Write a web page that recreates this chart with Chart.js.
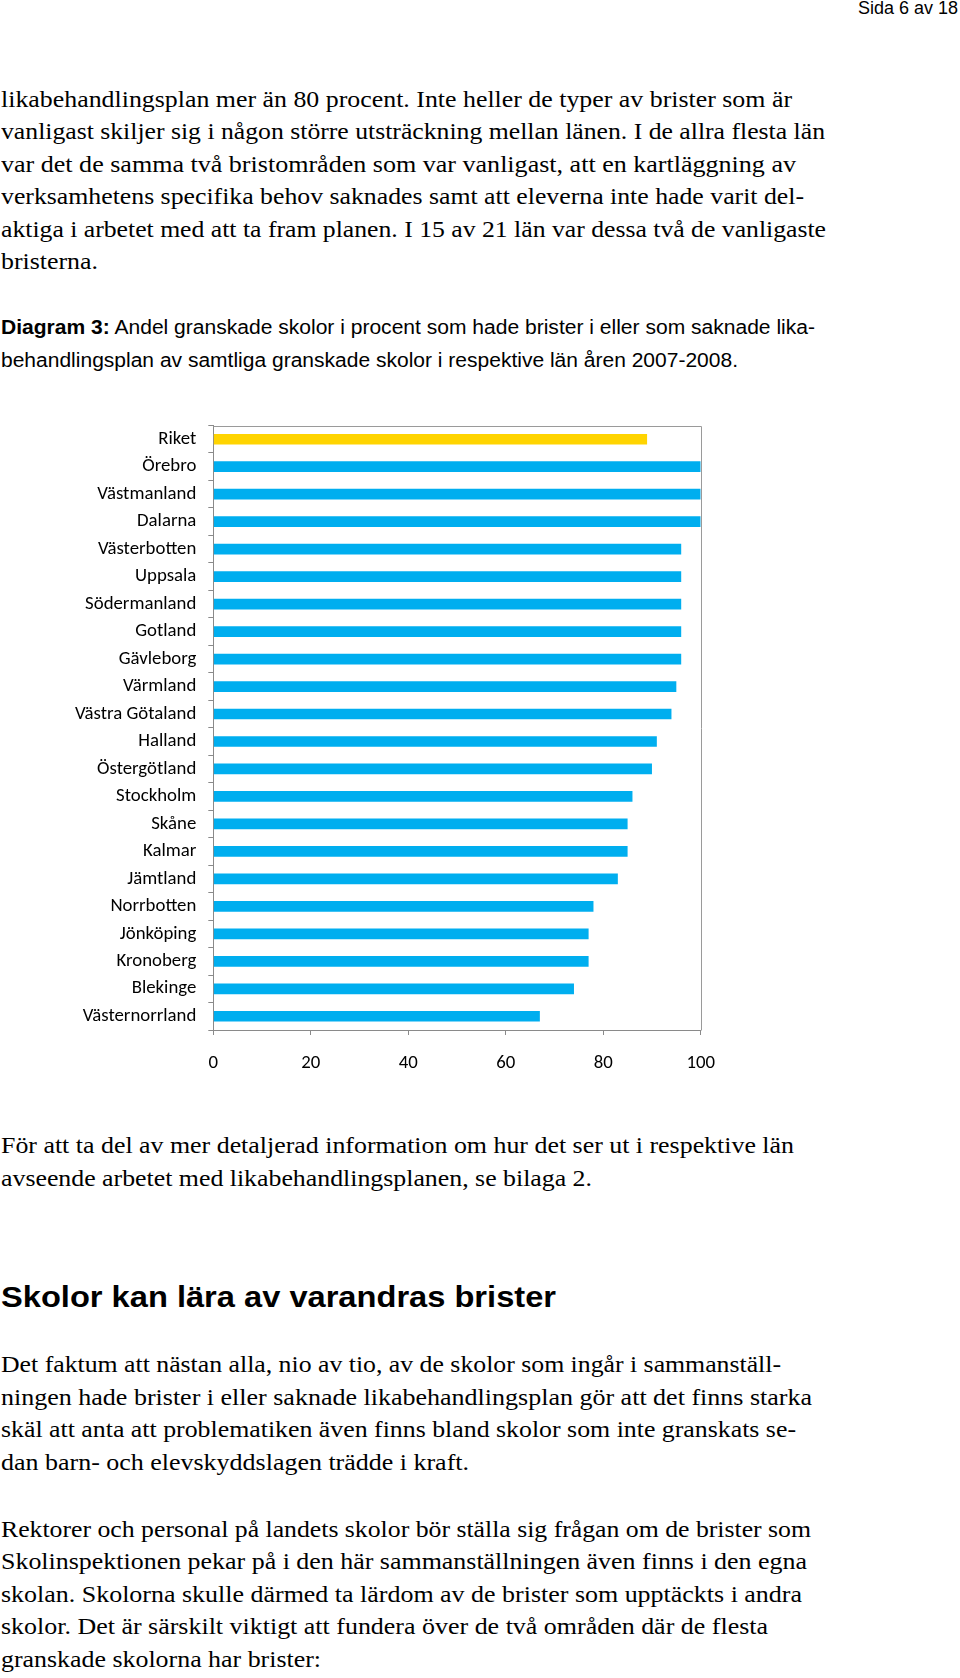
<!DOCTYPE html>
<html lang="sv">
<head>
<meta charset="utf-8">
<title>Diagram 3</title>
<script src="https://cdn.jsdelivr.net/npm/chart.js@4/dist/chart.umd.min.js"></script>
<style>
  html, body { margin:0; padding:0; background:#fff; }
  body { width:960px; height:1678px; position:relative; overflow:hidden; color:#000; }
  .ln { position:absolute; white-space:nowrap; line-height:normal; transform-origin:0 0; }
  .serif { font-family:"Liberation Serif", "Times New Roman", serif; font-size:22.5px; }
  .sans { font-family:"Liberation Sans", Arial, sans-serif; }
  #chartBox { position:absolute; left:0; top:400px; width:960px; height:700px; }
</style>
</head>
<body>
<div id="chartBox"><canvas id="c"></canvas></div>
<script>
// ---- chart data ----
const categories = ['Riket','Örebro','Västmanland','Dalarna','Västerbotten','Uppsala','Södermanland','Gotland','Gävleborg','Värmland','Västra Götaland','Halland','Östergötland','Stockholm','Skåne','Kalmar','Jämtland','Norrbotten','Jönköping','Kronoberg','Blekinge','Västernorrland'];
const values = [89, 100, 100, 100, 96, 96, 96, 96, 96, 95, 94, 91, 90, 86, 85, 85, 83, 78, 77, 77, 74, 67];
const highlightCategory = 'Riket';
const xTickValues = [0, 20, 40, 60, 80, 100];

// ---- page text (line by line) ----
const headerText = 'Sida 6 av 18';
const para1 = [
  'likabehandlingsplan mer än 80 procent. Inte heller de typer av brister som är',
  'vanligast skiljer sig i någon större utsträckning mellan länen. I de allra flesta län',
  'var det de samma två bristområden som var vanligast, att en kartläggning av',
  'verksamhetens specifika behov saknades samt att eleverna inte hade varit del-',
  'aktiga i arbetet med att ta fram planen. I 15 av 21 län var dessa två de vanligaste',
  'bristerna.'
];
const captionBold = 'Diagram 3:';
const caption = [
  ' Andel granskade skolor i procent som hade brister i eller som saknade lika-',
  'behandlingsplan av samtliga granskade skolor i respektive län åren 2007-2008.'
];
const para2 = [
  'För att ta del av mer detaljerad information om hur det ser ut i respektive län',
  'avseende arbetet med likabehandlingsplanen, se bilaga 2.'
];
const headingText = 'Skolor kan lära av varandras brister';
const para3 = [
  'Det faktum att nästan alla, nio av tio, av de skolor som ingår i sammanställ-',
  'ningen hade brister i eller saknade likabehandlingsplan gör att det finns starka',
  'skäl att anta att problematiken även finns bland skolor som inte granskats se-',
  'dan barn- och elevskyddslagen trädde i kraft.'
];
const para4 = [
  'Rektorer och personal på landets skolor bör ställa sig frågan om de brister som',
  'Skolinspektionen pekar på i den här sammanställningen även finns i den egna',
  'skolan. Skolorna skulle därmed ta lärdom av de brister som upptäckts i andra',
  'skolor. Det är särskilt viktigt att fundera över de två områden där de flesta',
  'granskade skolorna har brister:'
];

function placeLine(html, cls, style, x, baseline, targetRight) {
  const el = document.createElement('div');
  el.className = 'ln ' + cls;
  if (style) el.style.cssText += style;
  el.innerHTML = html;
  el.style.left = x + 'px';
  el.style.top = '0px';
  document.body.appendChild(el);
  const m = document.createElement('span');
  m.style.display = 'inline-block'; m.style.width = '0'; m.style.height = '0';
  el.appendChild(m);
  const r = el.getBoundingClientRect();
  const mr = m.getBoundingClientRect();
  const base = mr.top - r.top;
  el.style.top = (baseline - base) + 'px';
  if (targetRight) {
    const w = r.width;
    el.style.transform = 'scaleX(' + ((targetRight - x) / w) + ')';
  }
  return el;
}
function esc(s){ return s.replace(/&/g,'&amp;').replace(/</g,'&lt;'); }

function drawText() {
  placeLine(esc(headerText), 'sans', 'font-size:17.5px;', 858, 14, 958);
  const p1Right = [792, 825, 796, 804, 826, 98];
  para1.forEach((t, i) => placeLine(esc(t), 'serif', '', 1, 106.5 + i * 32.5, p1Right[i]));
  placeLine('<b>' + esc(captionBold) + '</b>' + esc(caption[0]), 'sans', 'font-size:19.5px;', 1, 333.5, 815);
  placeLine(esc(caption[1]), 'sans', 'font-size:19.5px;', 1, 367, 738);
  const p2Right = [794, 592];
  para2.forEach((t, i) => placeLine(esc(t), 'serif', '', 1, 1153 + i * 32.5, p2Right[i]));
  placeLine(esc(headingText), 'sans', 'font-size:29px;font-weight:bold;', 1, 1306.5, 556);
  const p3Right = [781, 812, 796, 469];
  para3.forEach((t, i) => placeLine(esc(t), 'serif', '', 1, 1372 + i * 32.5, p3Right[i]));
  const p4Right = [811, 807, 802, 768, 321];
  para4.forEach((t, i) => placeLine(esc(t), 'serif', '', 1, 1536.5 + i * 32.6, p4Right[i]));
}

const framePlugin = {
  id: 'frame',
  beforeDatasetsDraw(chart) {
    const a = chart.chartArea, c = chart.ctx;
    c.save();
    c.strokeStyle = '#9a9a9a';
    c.lineWidth = 1;
    c.beginPath();
    c.moveTo(Math.round(a.left) + 0.5, Math.round(a.top) + 0.5);
    c.lineTo(Math.round(a.right) + 0.5, Math.round(a.top) + 0.5);
    c.lineTo(Math.round(a.right) + 0.5, Math.round(a.bottom) + 0.5);
    c.stroke();
    c.restore();
  }
};

function drawChart() {
  const tickFont = { family: 'Carlito, Lato, sans-serif', size: 18.8 };
  new Chart(document.getElementById('c'), {
    type: 'bar',
    data: {
      labels: categories,
      datasets: [{
        data: values,
        backgroundColor: categories.map(c => c === highlightCategory ? '#FFD400' : '#00AEEF'),
        borderWidth: 0,
        barPercentage: 0.39,
        categoryPercentage: 1
      }]
    },
    options: {
      indexAxis: 'y',
      responsive: true,
      maintainAspectRatio: false,
      animation: false,
      events: [],
      layout: { padding: { left: 0, top: 25.5, right: 259.3, bottom: 10 } },
      plugins: { legend: { display: false }, tooltip: { enabled: false } },
      scales: {
        x: {
          min: 0, max: 100,
          afterBuildTicks: s => { s.ticks = xTickValues.map(v => ({ value: v })); },
          ticks: { padding: 17.5, color: '#000', font: tickFont, maxRotation: 0 },
          grid: { drawOnChartArea: false, drawTicks: true, tickLength: 5, color: '#8a8a8a' },
          border: { display: true, color: '#8a8a8a' },
          afterFit: s => { s.height = 60; }
        },
        y: {
          ticks: { padding: 12, color: '#000', font: tickFont, autoSkip: false },
          grid: { drawOnChartArea: false, drawTicks: true, tickLength: 5, color: '#8a8a8a', offset: true },
          border: { display: true, color: '#8a8a8a' },
          afterFit: s => { s.width = 213.3; }
        }
      }
    },
    plugins: [framePlugin]
  });
}

const ready = (document.fonts && document.fonts.load)
  ? Promise.all([
      document.fonts.load('19px Carlito'),
      document.fonts.load('23px "Liberation Serif"'),
      document.fonts.load('19px "Liberation Sans"'),
      document.fonts.load('bold 29px "Liberation Sans"')
    ]).catch(() => {})
  : Promise.resolve();
ready.then(() => { drawText(); drawChart(); });
</script>
</body>
</html>
